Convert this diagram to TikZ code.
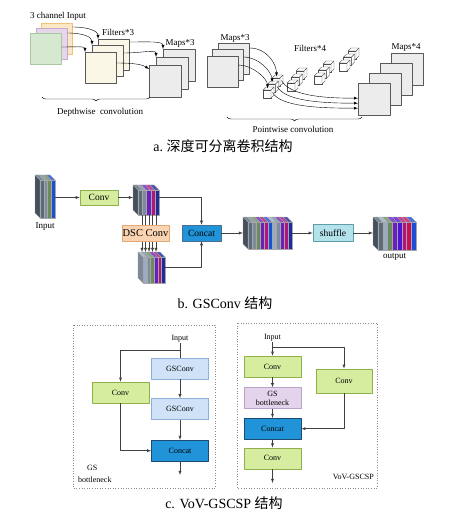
\documentclass[tikz,border=0pt]{standalone}
\usepackage{fontspec}
\setmainfont{Liberation Serif}
\newfontfamily\cjk{Noto Sans CJK SC}
\usetikzlibrary{arrows,calc,positioning,decorations.pathreplacing}

\definecolor{inorange}{HTML}{FCE7C4}
\definecolor{inorangeline}{HTML}{EFC27A}
\definecolor{inpurple}{HTML}{E6D6EA}
\definecolor{inpurpleline}{HTML}{C7A9CF}
\definecolor{ingreen}{HTML}{D5E8D0}
\definecolor{ingreenline}{HTML}{A9C7A1}
\definecolor{cream}{HTML}{FBF7E7}
\definecolor{mapgray}{HTML}{ECECEC}
\definecolor{cslate}{HTML}{5B6B7C}
\definecolor{cgray}{HTML}{7C8C9A}
\definecolor{csteel}{HTML}{9AACC2}
\definecolor{cgreen}{HTML}{6A8C5C}
\definecolor{cblue}{HTML}{1D4FD6}
\definecolor{cpurple}{HTML}{6A20C0}
\definecolor{cmagenta}{HTML}{B0157C}
\definecolor{ccrimson}{HTML}{C8105A}
\definecolor{cnavy}{HTML}{1E2C9C}
\definecolor{convfill}{HTML}{D6EDA0}
\definecolor{convline}{HTML}{8FB04C}
\definecolor{dscfill}{HTML}{F9D3B2}
\definecolor{dscline}{HTML}{E2A878}
\definecolor{catfill}{HTML}{2193D8}
\definecolor{catline}{HTML}{1B4A72}
\definecolor{shuffill}{HTML}{B4E2EA}
\definecolor{shufline}{HTML}{5E9EAA}
\definecolor{gsfill}{HTML}{CFE2F7}
\definecolor{gsline}{HTML}{8CB0DA}
\definecolor{gsbfill}{HTML}{E3D4EC}
\definecolor{gsbline}{HTML}{B9A3CB}

% stack of coloured slabs: x, y, slab width, height, side colour, colours
\newcommand{\slabs}[6]{%
  \filldraw[fill=#5, draw=black!40, line width=0.2pt] (#1,#2) -- ++(5,5) -- ++(0,#4) -- ++(-5,-5) -- cycle;
  \foreach \c [count=\i from 0] in {#6} {
    \filldraw[fill=\c, draw=black!35, line width=0.2pt] ({#1+\i*#3+5},{#2+5}) rectangle ++(#3,#4);
    \filldraw[fill=\c!80!white, draw=black!35, line width=0.2pt] ({#1+\i*#3},#2) -- ++(#3,0) -- ++(5,5) -- ++(-#3,0) -- cycle;
  }
}
% one small cube, front face bottom-left at x, y
\newcommand{\cubeat}[2]{%
  \filldraw[cube] (#1,#2) rectangle ++(8,-8);
  \filldraw[cube] (#1,{#2-8}) -- ++(3,-3) -- ++(8,0) -- ++(-3,3) -- cycle;
  \filldraw[cube] ({#1+8},#2) -- ++(3,-3) -- ++(0,-8) -- ++(-3,3) -- cycle;
}
\newcommand{\cubestick}[2]{%
  \foreach \k in {2,1,0} {\cubeat{#1+4.5*\k}{#2-6*\k}}
}

\tikzset{
  sq/.style={draw=black!65, line width=0.4pt, minimum size=31pt, inner sep=0pt, anchor=north west},
  lbl/.style={font=\fontsize{9}{10}\selectfont, inner sep=0pt},
  lbls/.style={font=\fontsize{8}{9}\selectfont, inner sep=0pt},
  op/.style={draw, line width=0.5pt, inner sep=0pt, font=\fontsize{9.5}{10}\selectfont},
  blk/.style={draw, line width=0.6pt, minimum width=57pt, minimum height=21pt, inner sep=0pt, font=\fontsize{8}{9}\selectfont, align=center},
  blkbox/.style={inner sep=0pt, anchor=north west},
  cube/.style={fill=white, draw=black!70, line width=0.35pt},
  wire/.style={draw=black!75, line width=0.45pt},
  frame/.style={draw=black!45, dotted, line width=0.6pt},
  captxt/.style={font=\fontsize{14}{16}\selectfont, inner sep=0pt}
}

\begin{document}
\begin{tikzpicture}[x=1pt, y=-1pt, >=latex, line join=round]
\useasboundingbox (0,0) rectangle (458,521);
%
% a. depthwise convolution
\node[lbl] (inlbl) at (58,16) {3 channel Input};
\node[sq, fill=inorange, draw=inorangeline] (inO) at (41,23) {};
\node[sq, fill=inpurple, draw=inpurpleline] (inP) at (36,28) {};
\node[sq, fill=ingreen, draw=ingreenline] (inG) at (30,33) {};
\node[lbl] (filtlbl) at (118,32) {Filters*3};
\node[sq, fill=cream] (filB) at (98,39) {};
\node[sq, fill=cream] (filM) at (92,45) {};
\node[sq, fill=cream] (filF) at (85,52) {};
\node[lbl] (mapslbl) at (180,43) {Maps*3};
\node[sq, fill=mapgray, minimum size=32pt] (mapB) at (163,49) {};
\node[sq, fill=mapgray, minimum size=32pt] (mapM) at (156,57) {};
\node[sq, fill=mapgray, minimum size=32pt] (mapF) at (149,65) {};
%
\draw[->, line width=0.4pt] ([yshift=-4pt]inO.north east) .. controls +(16,0) and +(0,-8) .. (filB.north west);
\draw[->, line width=0.4pt] ([yshift=-5pt]inP.north east) .. controls +(16,0) and +(0,-8) .. (filM.north west);
\draw[->, line width=0.4pt] ([yshift=-14pt]inG.north east) .. controls +(14,0) and +(0,-6) .. (filF.north west);
\draw[->, line width=0.4pt] ([yshift=-3pt]filB.north east) .. controls +(20,0) and +(0,-8) .. (mapB.north west);
\draw[->, line width=0.4pt] ([yshift=-8pt]filM.north east) .. controls +(20,0) and +(0,-8) .. (mapM.north west);
\draw[->, line width=0.4pt] ([yshift=-11pt]filF.north east) .. controls +(20,0) and +(-6,-4) .. ([yshift=-4pt]mapF.north west);
%
\draw[decorate, decoration={brace, mirror, amplitude=4pt}, line width=0.4pt] (42,97) -- (150,97);
\node[lbl] (dwlbl) at (100,112) {Depthwise\ \ convolution};
%
% a. pointwise convolution
\node[lbl] (pmlbl) at (235,38) {Maps*3};
\node[sq, fill=mapgray] (pmB) at (218,43) {};
\node[sq, fill=mapgray] (pmM) at (212,49) {};
\node[sq, fill=mapgray] (pmF) at (207,56) {};
\node[lbl] (pflbl) at (310,48) {Filters*4};
\cubestick{339}{71}
\cubestick{314}{84}
\cubestick{287}{91}
\cubestick{263}{98}
\coordinate (st1) at (263,98);
\node[lbl] (m4lbl) at (406,47) {Maps*4};
\node[sq, fill=mapgray, minimum size=32pt] (m4A) at (391,53) {};
\node[sq, fill=mapgray, minimum size=32pt] (m4B) at (380,63) {};
\node[sq, fill=mapgray, minimum size=32pt] (m4C) at (369,73) {};
\node[sq, fill=mapgray, minimum size=32pt] (m4F) at (358,83) {};
%
\draw[->, line width=0.4pt] ([yshift=-5pt]pmB.north east) .. controls +(18,0) and +(0,-12) .. ($(st1)+(13.5,-21.5)$);
\draw[->, line width=0.4pt] ([yshift=-8pt]pmM.north east) .. controls +(16,0) and +(0,-10) .. ($(st1)+(9,-15.5)$);
\draw[->, line width=0.4pt] ([yshift=-9pt]pmF.north east) .. controls +(14,0) and +(0,-10) .. ($(st1)+(4.5,-9.5)$);
\draw[->, line width=0.4pt] ($(st1)+(18.5,-17.5)$) .. controls +(8,14) and +(-40,0) .. ([yshift=1pt]m4F.west);
\draw[->, line width=0.4pt] ($(st1)+(14,-11.5)$) .. controls +(8,14) and +(-40,0) .. ([yshift=-4pt]m4F.west);
\draw[->, line width=0.4pt] ($(st1)+(9.5,-5.5)$) .. controls +(8,14) and +(-40,0) .. ([yshift=-9pt]m4F.west);
%
\draw[decorate, decoration={brace, mirror, amplitude=4pt}, line width=0.4pt] (227,117) -- (362,117);
\node[lbl] (pwlbl) at (293,129) {Pointwise convolution};
\node[captxt] (capa) at (223,146) {a.\ {\cjk 深度可分离卷积结构}};
%
% b. GSConv
\node[blkbox, minimum width=20pt, minimum height=43pt] (xin) at (35,175) {};
\slabs{35}{175}{3.75}{38}{cslate!75!black}{cslate,cgray,cgreen,cblue}
\node[lbl, below=4pt of xin] (xinlbl) {Input};
\node[op, fill=convfill, draw=convline, minimum width=38pt, minimum height=15pt] (conv) at (99,197.5) {Conv};
\node[blkbox, minimum width=26pt, minimum height=30pt] (xc) at (133,185) {};
\slabs{133}{185}{4.2}{25}{cslate!75!black}{cslate,cgray,cpurple,cmagenta,cnavy}
\node[blkbox, minimum width=27pt, minimum height=31pt] (xd) at (138,252) {};
\slabs{138}{252}{3.67}{26}{csteel!80!black}{csteel,cgray,cgreen,cpurple,cmagenta,cnavy}
%
\foreach \i in {0,...,4}
  \draw[->, wire] ($(xc.south west)+(9+3.5*\i,0)$) -- ($(xc.south west |- xd.north)+(9+3.5*\i,0)$);
\node[op, fill=dscfill, draw=dscline, minimum width=47pt, minimum height=16pt, font=\fontsize{10.5}{11}\selectfont] (dsc) at (145.5,233) {DSC Conv};
\node[op, fill=catfill, draw=catline!80, minimum width=39pt, minimum height=16pt] (cat) at (201.5,233) {Concat};
\node[blkbox, minimum width=49pt, minimum height=32pt] (xe) at (243,217) {};
\slabs{243}{217}{4}{27}{cslate!75!black}{cslate,cgray,cgreen,cpurple,cmagenta,cblue,csteel,cgray,cpurple,cmagenta,cnavy}
\node[op, fill=shuffill, draw=shufline, minimum width=40pt, minimum height=17pt] (shuf) at (333,233) {shuffle};
\node[blkbox, minimum width=43pt, minimum height=33pt] (xf) at (373,217) {};
\slabs{373}{217}{4.75}{28}{cslate!75!black}{cslate,csteel,cgreen,cpurple,cpurple!70!blue,cmagenta,ccrimson,cblue}
\node[lbl, below=3pt of xf] (xflbl) {output};
%
\draw[->, wire] (conv.west -| xin.east) -- (conv.west);
\draw[->, wire] (conv.east) -- (conv.east -| xc.west);
\draw[->, wire] (conv.east -| xc.east) -| (cat.north);
\draw[->, wire] (xd.east) -| (cat.south);
\draw[->, wire] (cat.east) -- (cat.east -| xe.west);
\draw[->, wire] (shuf.west -| xe.east) -- (shuf.west);
\draw[->, wire] (shuf.east) -- (shuf.east -| xf.west);
\node[captxt] (capb) at (225,303) {b. GSConv {\cjk 结构}};
%
% c. GS bottleneck
\draw[frame] (73,325) rectangle (215,488);
\node[lbls] (inL) at (180,339) {Input};
\node[blk, fill=gsfill, draw=gsline] (gsc1) at (180,368.5) {GSConv};
\node[blk, fill=gsfill, draw=gsline, below=19pt of gsc1] (gsc2) {GSConv};
\node[blk, fill=catfill, draw=catline, below=20pt of gsc2] (catL) {Concat};
\node[blk, fill=convfill, draw=convline] (convL) at (120.5,392.5) {Conv};
\coordinate (brL) at (180,350);
\coordinate (outL) at (180,475);
\draw[wire] (inL) -- (gsc1);
\draw[->, wire] (brL) -| (convL.north);
\draw[->, wire] (gsc1) -- (gsc2);
\draw[->, wire] (gsc2) -- (catL);
\draw[->, wire] (convL.south) |- (catL.west);
\draw[->, wire] (catL) -- (outL);
\node[lbls, font=\fontsize{8}{12}\selectfont, align=left, anchor=west] (gsbl) at (78,474) {\hspace*{9pt}GS\\bottleneck};
%
% c. VoV-GSCSP
\draw[frame] (237,323) rectangle (377,488);
\node[lbls] (inR) at (272.5,338) {Input};
\node[blk, fill=convfill, draw=convline] (convR1) at (272.5,366.5) {Conv};
\node[blk, fill=gsbfill, draw=gsbline, below=10pt of convR1, font=\fontsize{8}{9}\selectfont] (gsb) {GS\\bottleneck};
\node[blk, fill=catfill, draw=catline, below=9pt of gsb] (catR) {Concat};
\node[blk, fill=convfill, draw=convline, below=8pt of catR] (convR3) {Conv};
\node[blk, fill=convfill, draw=convline, minimum width=56pt, minimum height=24pt] (convR2) at (344,381) {Conv};
\coordinate (brR) at (272.5,347);
\coordinate (outR) at (272.5,483);
\draw[->, wire] (inR) -- (convR1);
\draw[->, wire] (brR) -| (convR2.north);
\draw[->, wire] (convR1) -- (gsb);
\draw[->, wire] (gsb) -- (catR);
\draw[->, wire] (catR) -- (convR3);
\draw[->, wire] (convR3) -- (outR);
\draw[->, wire] (convR2.south) |- (catR.east);
\node[lbls, anchor=east] (vovlbl) at (374,477) {VoV-GSCSP};
\node[captxt] (capc) at (224,503) {c. VoV-GSCSP {\cjk 结构}};
\end{tikzpicture}
\end{document}
